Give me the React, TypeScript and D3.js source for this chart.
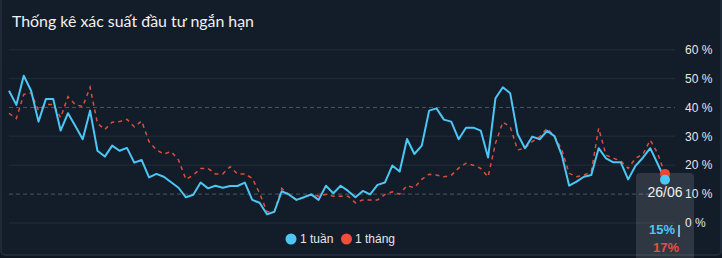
import React from "react";
import * as d3 from "d3";

const title = "Thống kê xác suất đầu tư ngắn hạn";
const seriesNames = ["1 tuần", "1 tháng"];
const seriesColors = ["#4cc6f5", "#d94f3b"];
const yTicks = [0, 10, 20, 30, 40, 50, 60];
const dashedTicks = [10, 40];
const lastDate = "26/06";

const week = [
  45.8, 40.9, 51, 45.8, 35.1, 42.9, 42.9, 32, 38, 33.6,
  29, 38.9, 25, 23, 26.8, 25, 26, 20.9, 21.8, 15.8,
  17, 16, 14.1, 12.2, 8.9, 9.8, 14, 12, 12.9, 12.2,
  12.8, 12.8, 14, 8, 7, 3, 3.9, 11, 9.8, 8,
  8.9, 9.9, 8, 12.9, 10.3, 12.9, 11.1, 8.9, 11.1, 9.9,
  13.2, 14, 19.9, 17.8, 29.1, 23.9, 26.8, 38.9, 39.7, 35.8,
  35.1, 29, 33, 33, 32, 22.7, 43.2, 47, 44.9, 30.8,
  25.9, 29.9, 29, 31.9, 30.1, 23.5, 12.9, 14.3, 16, 16.6,
  25.9, 22.4, 21, 21, 15.1, 19.8, 22.6, 25.9, 20.5, 15,
];

const month = [
  38, 36.2, 44.5, 45, 39, 41, 41, 36.5, 43.7, 41,
  40.3, 47, 34.5, 32.4, 34.9, 35.1, 35.9, 33.3, 35.3, 28.2,
  25.3, 23.9, 24.7, 21.8, 15.1, 16.6, 18.9, 18.9, 17, 17,
  19.5, 17, 17, 15.5, 10.3, 3.9, 3.9, 12, 9.9, 8,
  8.8, 9.9, 9.3, 9.9, 9.3, 9.3, 9.3, 7, 8, 8,
  8, 9.9, 10.8, 10, 12.9, 12.2, 15.1, 16.9, 16.6, 16,
  16.5, 19, 20.7, 20, 18.9, 16, 27.6, 34.9, 33.3, 25.3,
  25.9, 28.2, 29.9, 32.8, 30.1, 25.3, 17.2, 16, 16.6, 17.8,
  32.8, 23.5, 22.4, 21.5, 18.9, 22.4, 23.8, 28.7, 24.1, 17,
];

const W = 722;
const H = 258;
const BG = "#131c29";

export default function App() {
  const idx = week.map((_, i) => i);
  const x = d3.scalePoint<number>().domain(idx).range([9, 665]);
  const y = d3.scaleLinear().domain([0, 60]).range([223, 49.7]);
  const line = d3
    .line<number>()
    .x((_, i) => x(i) as number)
    .y((d) => y(d));
  const n = week.length - 1;
  const lx = x(n) as number;

  return (
    <svg
      width={W}
      height={H}
      style={{ position: "absolute", left: 0, top: 0, display: "block" }}
      fontFamily="'Liberation Sans', Arial, sans-serif"
    >
      <rect x={0} y={0} width={W} height={H} fill="#0f1722" />
      <rect x={1} y={-4} width={W - 2} height={259} rx={4} fill={BG} stroke="#243040" strokeWidth={1.5} />
      <text x={12} y={27} fill="#f2f2f2" fontSize={15.9} fontFamily="Lato, 'Noto Sans', sans-serif">
        {title}
      </text>
      {yTicks.map((t) => {
        const dashed = dashedTicks.includes(t);
        return (
          <g key={t}>
            <line
              x1={9}
              x2={675}
              y1={y(t)}
              y2={y(t)}
              stroke={dashed ? "#4d5560" : "#1d2835"}
              strokeWidth={dashed ? 1 : 1.5}
              strokeDasharray={dashed ? "4 3" : undefined}
            />
            <text x={685} y={y(t)} dy="0.35em" fill="#e6e6e6" fontSize={12}>
              {t} %
            </text>
          </g>
        );
      })}
      <path d={line(month) || ""} fill="none" stroke={seriesColors[1]} strokeWidth={1.5} strokeDasharray="4 4" />
      <path d={line(week) || ""} fill="none" stroke={seriesColors[0]} strokeWidth={2} strokeLinejoin="round" />
      <rect x={636} y={173} width={58} height={90} rx={4} fill="#ffffff" fillOpacity={0.12} />
      <circle cx={lx} cy={y(month[n])} r={5} fill="#f4432e" />
      <circle cx={lx} cy={y(week[n])} r={5} fill={seriesColors[0]} />
      <text x={lx} y={192} dy="0.35em" textAnchor="middle" fill="#f0f0f0" fontSize={14}>
        {lastDate}
      </text>
      <text x={662} y={229} dy="0.35em" textAnchor="middle" fill={seriesColors[0]} fontSize={13} fontWeight="bold">
        {Math.round(week[n])}%
      </text>
      <text x={679} y={229} dy="0.35em" textAnchor="middle" fill="#f0f0f0" fontSize={13}>
        |
      </text>
      <text x={666} y={247} dy="0.35em" textAnchor="middle" fill="#e0513f" fontSize={13} fontWeight="bold">
        {Math.round(month[n])}%
      </text>
      <g fontSize={12} fill="#e6e6e6">
        <circle cx={291} cy={239} r={5.5} fill={seriesColors[0]} />
        <text x={300} y={239} dy="0.35em">{seriesNames[0]}</text>
        <circle cx={346.5} cy={239} r={5.5} fill="#ef4f39" />
        <text x={355} y={239} dy="0.35em">{seriesNames[1]}</text>
      </g>
    </svg>
  );
}
